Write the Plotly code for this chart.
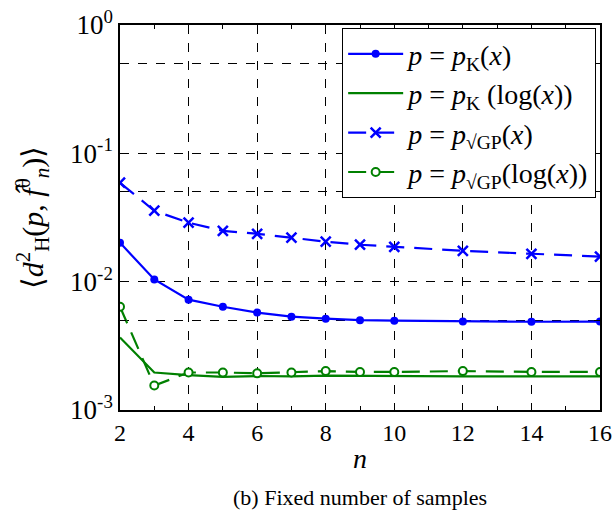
import plotly.graph_objects as go

n_vals = [2, 3, 4, 5, 6, 7, 8, 9, 10, 12, 14, 16]
pk_x = [0.0201, 0.0104, 0.00724, 0.00638, 0.00574, 0.00534, 0.00515, 0.00501, 0.00497, 0.00489, 0.00487, 0.00489]
pk_log = [0.00367, 0.00196, 0.00187, 0.00181, 0.00184, 0.00183, 0.00185, 0.00184, 0.00184, 0.00183, 0.00183, 0.00183]
gp_x = [0.0590, 0.0357, 0.0288, 0.0249, 0.0236, 0.0220, 0.0205, 0.0194, 0.0187, 0.0174, 0.0165, 0.0157]
gp_log = [0.00638, 0.00155, 0.00196, 0.00196, 0.00193, 0.00196, 0.00201, 0.00198, 0.00198, 0.00201, 0.00198, 0.00198]

names = [
    "<i>p</i> = <i>p</i><sub>K</sub>(<i>x</i>)",
    "<i>p</i> = <i>p</i><sub>K</sub> (log(<i>x</i>))",
    "<i>p</i> = <i>p</i><sub>√GP</sub>(<i>x</i>)",
    "<i>p</i> = <i>p</i><sub>√GP</sub>(log(<i>x</i>))",
]

blue = "#0000ff"
green = "#008000"
serif = "Liberation Serif"

fig = go.Figure()
fig.add_trace(go.Scatter(x=n_vals, y=pk_x, name=names[0], mode="lines+markers",
                         line=dict(color=blue, width=2.2),
                         marker=dict(symbol="circle", size=8, color=blue)))
fig.add_trace(go.Scatter(x=n_vals, y=pk_log, name=names[1], mode="lines",
                         line=dict(color=green, width=2.2)))
fig.add_trace(go.Scatter(x=n_vals, y=gp_x, name=names[2], mode="lines+markers",
                         line=dict(color=blue, width=2.2, dash="18px,10px"),
                         marker=dict(symbol="x-thin", size=10, color=blue,
                                     line=dict(color=blue, width=2.5))))
fig.add_trace(go.Scatter(x=n_vals, y=gp_log, name=names[3], mode="lines+markers",
                         line=dict(color=green, width=2.2, dash="18px,10px"),
                         marker=dict(symbol="circle", size=8, color="white",
                                     line=dict(color=green, width=2))))

ytv = [1, 0.5, 0.1, 0.05, 0.01, 0.005, 0.001]
ytt = ["10<sup>0</sup>", "", "10<sup>-1</sup>", "", "10<sup>-2</sup>", "", "10<sup>-3</sup>"]
xtv = [2, 4, 6, 8, 10, 12, 14, 16]

fig.update_layout(
    width=615, height=515,
    margin=dict(l=120, r=15, t=25, b=105),
    paper_bgcolor="white", plot_bgcolor="white",
    font=dict(family=serif, color="black", size=20),
    showlegend=True,
    legend=dict(x=0.992, y=0.992, xanchor="right", yanchor="top",
                bgcolor="white", bordercolor="black", borderwidth=1,
                font=dict(family=serif, size=28, color="black"), tracegroupgap=0,
                itemwidth=55),
    xaxis=dict(range=[2, 16], tickvals=xtv, ticktext=[str(v) for v in xtv],
               automargin=False,
               ticks="inside", ticklen=6, tickcolor="black",
               minor=dict(dtick=1, ticks="inside", ticklen=4, tickcolor="black", showgrid=False),
               showline=True, linecolor="black", linewidth=1.5, mirror="ticks",
               showgrid=True, gridcolor="black", griddash="dash", gridwidth=1,
               tickfont=dict(family=serif, size=24, color="black"), zeroline=False,
               title=dict(text="<i>n</i>", font=dict(family=serif, size=28, color="black"), standoff=4)),
    yaxis=dict(type="log", range=[-3, 0], tickvals=ytv, ticktext=ytt,
               automargin=False,
               ticks="inside", ticklen=6, tickcolor="black",
               showline=True, linecolor="black", linewidth=1.5, mirror="ticks",
               showgrid=True, gridcolor="black", griddash="dash", gridwidth=1,
               tickfont=dict(family=serif, size=27, color="black"), zeroline=False,
               title=dict(text="⟨<i>d</i><sup>2</sup><sub>H</sub>(<i>p</i>, <i>f̂</i><sup>θ</sup><sub><i>n</i></sub>)⟩",
                          font=dict(family=serif, size=30, color="black"), standoff=18)),
)
fig.add_annotation(text="(b) Fixed number of samples", xref="paper", yref="paper",
                   x=0.5, y=-0.228, xanchor="center", yanchor="middle",
                   showarrow=False, font=dict(family=serif, size=22, color="black"))

fig.write_html("out.html")
